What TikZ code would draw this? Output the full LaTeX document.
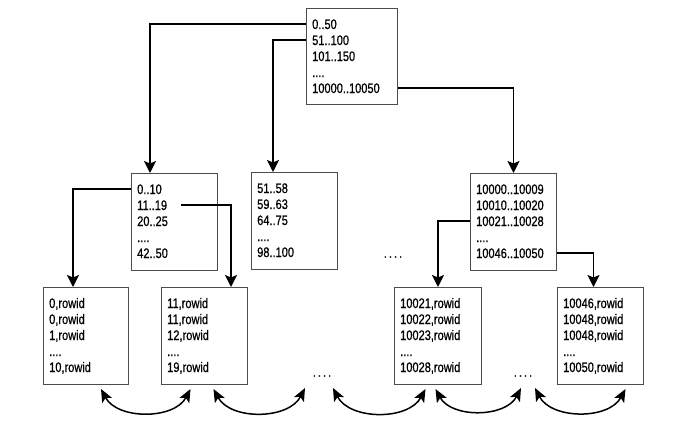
\documentclass[tikz,border=0pt]{standalone}
\usepackage{fontspec}
\setmainfont{Liberation Sans}[FakeStretch=0.8,FakeBold=0.6]
\usetikzlibrary{arrows.meta,positioning,calc}
\tikzset{
    blk/.style={draw=black!70,line width=1pt,minimum width=86,minimum height=97,inner sep=0pt,anchor=north west},
    row/.style={anchor=base west,inner sep=0pt,font=\fontsize{13.8}{16}\selectfont},
    gap/.style={inner sep=0pt,font=\fontsize{13.8}{16}\selectfont},
    dn/.style={line width=1.8pt,-{Stealth[length=12pt,width=12pt,inset=2.5pt]}},
    lnk/.style={line width=1.5pt,{Stealth[length=13pt,width=11pt,inset=3pt]}-{Stealth[length=13pt,width=11pt,inset=3pt]}}
}
% box with five rows: options, name, top left corner, rows
\newcommand\blkrows[8]{%
    \node[blk,#1] (#2) at #3 {};
    \node[row] (#2-1) at ([shift={(6,21)}]#2.north west) {#4};
    \node[row] (#2-2) at ([shift={(0,16)}]#2-1.base west) {#5};
    \node[row] (#2-3) at ([shift={(0,16)}]#2-2.base west) {#6};
    \node[row] (#2-4) at ([shift={(0,16)}]#2-3.base west) {#7};
    \node[row] (#2-5) at ([shift={(0,16)}]#2-4.base west) {#8};
}
\begin{document}
\begin{tikzpicture}[x=1pt,y=-1pt]
    \useasboundingbox (0,0) rectangle (686,421);

    % root and index blocks
    \blkrows{minimum width=91,minimum height=96}{root}{(306,8)}{0..50}{51..100}{101..150}{....}{10000..10050}
    \blkrows{}{idxa}{(131,173)}{0..10}{11..19}{20..25}{....}{42..50}
    \blkrows{}{idxb}{(251,172)}{51..58}{59..63}{64..75}{....}{98..100}
    \blkrows{}{idxc}{(470,173)}{10000..10009}{10010..10020}{10021..10028}{....}{10046..10050}

    % leaf blocks
    \blkrows{minimum width=85}{lfa}{(43,287)}{0,rowid}{0,rowid}{1,rowid}{....}{10,rowid}
    \blkrows{}{lfb}{(161,287)}{11,rowid}{11,rowid}{12,rowid}{....}{19,rowid}
    \blkrows{minimum width=87}{lfc}{(394,287)}{10021,rowid}{10022,rowid}{10023,rowid}{....}{10028,rowid}
    \blkrows{}{lfd}{(557,287)}{10046,rowid}{10048,rowid}{10048,rowid}{....}{10050,rowid}

    \node[gap] (gapmid) at (393,257) {.\kern2pt.\kern2pt.\kern2pt.};
    \node[gap] (gapl) at (322,376) {.\kern2pt.\kern2pt.\kern2pt.};
    \node[gap] (gapr) at (523,376) {.\kern2pt.\kern2pt.\kern2pt.};

    % pointers down the tree
    \draw[dn] (root.west |- root-1) -| ([xshift=19]idxa.north west);
    \draw[dn] (root.west |- root-2) -| ([xshift=22]idxb.north west);
    \draw[dn] (root.east |- root-5) -| (idxc.north);
    \draw[dn] (idxa.west |- idxa-1) -| ([xshift=30]lfa.north west);
    \draw[dn] ([xshift=14]idxa-2.east) -| ([xshift=70]lfb.north west);
    \draw[dn] (idxc.west |- idxc-3) -| (lfc.north);
    \draw[dn] (idxc.east |- idxc-5) -| ([xshift=-7]lfd.north);

    % leaf chain
    \draw[lnk] ([shift={(15,4)}]lfa.south) to[bend right=62] ([shift={(-14,4)}]lfb.south);
    \draw[lnk] ([shift={(9,4)}]lfb.south) to[bend right=62] ([shift={(-17,12)}]gapl.center);
    \draw[lnk] ([shift={(11,12)}]gapl.center) to[bend right=62] ([shift={(-12.5,4)}]lfc.south);
    \draw[lnk] ([shift={(-2.5,4)}]lfc.south) to[bend right=62] ([shift={(-2,12)}]gapr.center);
    \draw[lnk] ([shift={(12,12)}]gapr.center) to[bend right=62] ([shift={(25,4)}]lfd.south);
\end{tikzpicture}
\end{document}
